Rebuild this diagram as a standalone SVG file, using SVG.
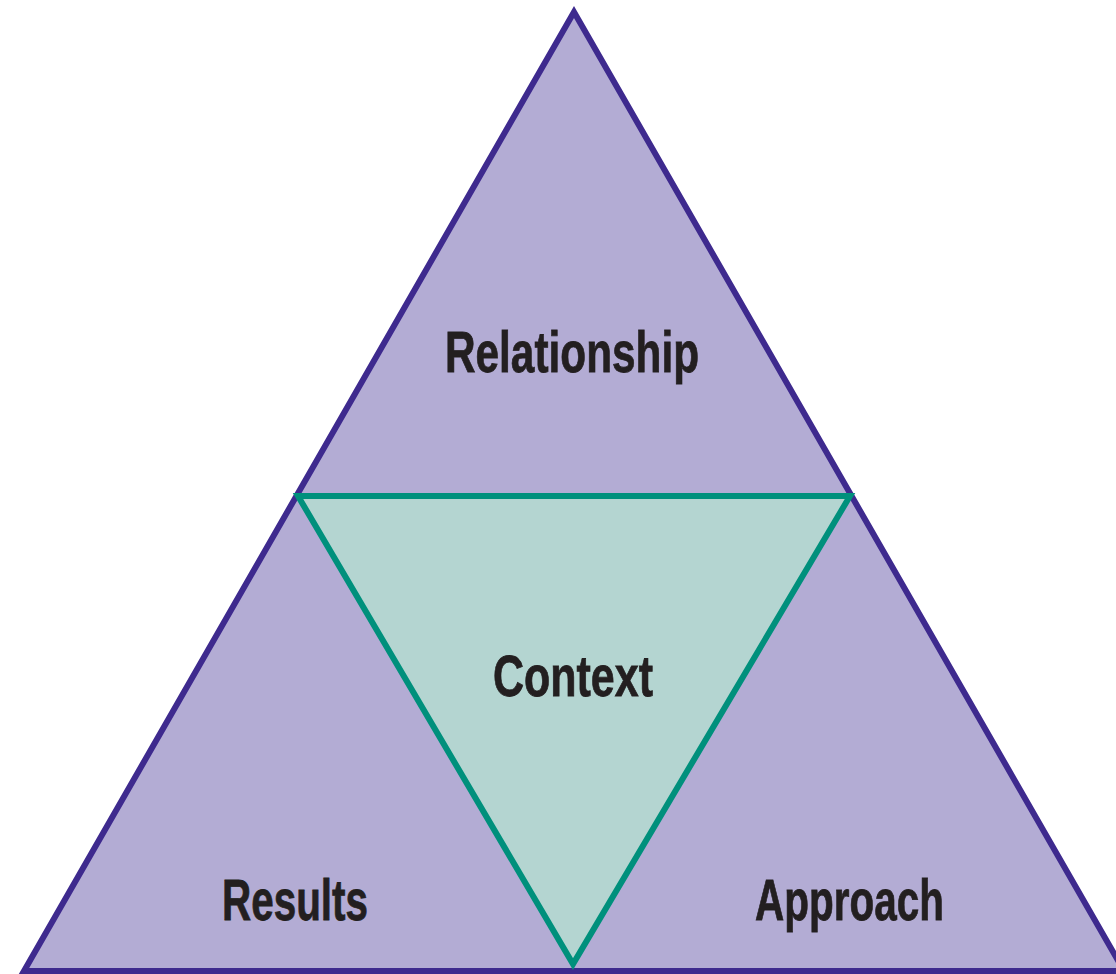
<svg xmlns="http://www.w3.org/2000/svg" width="1116" height="974" viewBox="0 0 1116 974">
<style>
.outer{fill:#b3acd4;stroke:#3e2a8e;stroke-width:6;stroke-linejoin:miter}
.inner{fill:#b4d5d1;stroke:#00907c;stroke-width:6;stroke-linejoin:miter}
.lbl{font-family:"Liberation Sans","Arial",sans-serif;font-weight:bold;font-size:57px;fill:#231f20;stroke:#231f20;stroke-width:0.8}
</style>
<rect width="1116" height="974" fill="#ffffff"/>
<g id="outer-triangle">
<polygon class="outer" points="574,12 24,971 1124,971"/>
</g>
<g id="context">
<polygon class="inner" points="298,496 850,496 573,964"/>
<text class="lbl" x="493" y="696" textLength="160" lengthAdjust="spacingAndGlyphs">Context</text>
</g>
<g id="relationship">
<text class="lbl" x="445" y="372" textLength="254" lengthAdjust="spacingAndGlyphs">Relationship</text>
</g>
<g id="results">
<text class="lbl" x="222" y="920" textLength="146" lengthAdjust="spacingAndGlyphs">Results</text>
</g>
<g id="approach">
<text class="lbl" x="755" y="920" textLength="189" lengthAdjust="spacingAndGlyphs">Approach</text>
</g>
<g id="connectors"></g>
</svg>
